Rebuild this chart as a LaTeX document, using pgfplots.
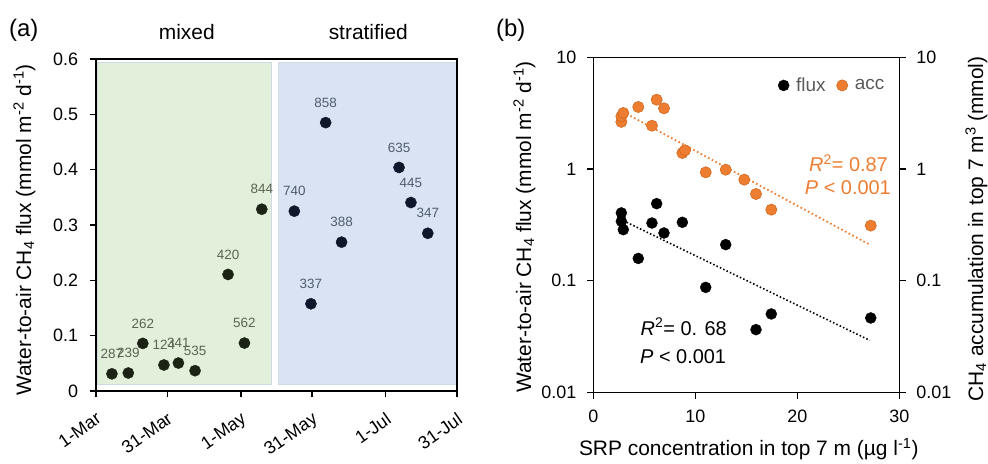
\documentclass[border=0pt]{standalone}
\usepackage{fontspec}
\setmainfont{Liberation Sans}
\usepackage{pgfplots}
\pgfplotsset{compat=1.18}
\definecolor{mixfill}{HTML}{E2EFDA}
\definecolor{strfill}{HTML}{DAE3F3}
\definecolor{rectedge}{HTML}{D0DAE4}
\definecolor{mixpt}{HTML}{1B2414}
\definecolor{strpt}{HTML}{0E172B}
\definecolor{mixlab}{HTML}{5B6352}
\definecolor{strlab}{HTML}{505B6E}
\definecolor{accor}{HTML}{ED7D31}
\definecolor{accedge}{HTML}{D2691E}
\definecolor{legtxt}{HTML}{595959}
\newcommand{\fs}[1]{\fontsize{#1}{#1}\selectfont}

\pgfplotstableread{
day y lab
6.7 0.031 287
13.6 0.0325 239
19.7 0.086 262
28.6 0.047 124
34.7 0.0505 341
41.7 0.0367 535
55.6 0.2106 420
62.5 0.0866 562
69.8 0.3285 844
}\mixed
\pgfplotstableread{
day y lab
83.5 0.325 740
96.7 0.485 858
90.5 0.1576 337
103.4 0.269 388
127.6 0.404 635
132.6 0.3406 445
139.7 0.285 347
}\strat
\pgfplotstableread{
srp flux
2.75 0.404
2.75 0.340
2.94 0.286
6.21 0.489
5.75 0.328
8.73 0.333
6.93 0.267
4.41 0.158
12.98 0.210
11.02 0.087
17.45 0.0503
15.95 0.0364
27.2 0.0463
}\fluxdata
\pgfplotstableread{
srp acc
2.75 2.64
2.75 2.96
2.94 3.17
4.41 3.59
6.21 4.17
6.93 3.49
5.75 2.44
8.73 1.39
8.99 1.47
11.02 0.933
12.98 0.985
14.8 0.802
15.95 0.597
17.45 0.432
27.2 0.311
}\accdata

\pgfplotsset{
  common/.style={
    scale only axis, anchor=south west,
    tick align=outside,
    major tick length=6.5bp,
    axis line style={line width=1.5bp, black},
    tick style={line width=1.3bp, black},
    tick label style={font=\fs{18}},
  }
}

\begin{document}
\begin{tikzpicture}[x=1bp,y=1bp]
\useasboundingbox (0,0) rectangle (988,464);

% ---------- panel (a) ----------
\begin{axis}[common,
  at={(96bp,73bp)}, width=361bp, height=332bp,
  xmin=0, xmax=152, ymin=0, ymax=0.6,
  xtick={0,30,61,91,122,152},
  xticklabels={1-Mar,31-Mar,1-May,31-May,1-Jul,31-Jul},
  ytick={0,0.1,0.2,0.3,0.4,0.5,0.6},
  yticklabels={0,0.1,0.2,0.3,0.4,0.5,0.6},
  tick pos=left,
  x tick label style={rotate=35, anchor=north east},
  xticklabel shift=9bp,
  yticklabel shift=8bp,
  axis on top,
]
\draw[fill=mixfill, draw=rectedge, line width=0.8bp] (axis cs:0.5,0.012) rectangle (axis cs:73.8,0.593);
\draw[fill=strfill, draw=rectedge, line width=0.8bp] (axis cs:76.8,0.012) rectangle (axis cs:151.6,0.593);
\addplot[only marks, mark=*, mark size=5.6bp, mixpt, mark options={fill=mixpt, draw=mixpt},
  nodes near coords, point meta=explicit symbolic,
  nodes near coords style={font=\fs{13.5}, text=mixlab, anchor=south, inner sep=0pt, yshift=15bp}]
  table[x=day, y=y, meta=lab] {\mixed};
\addplot[only marks, mark=*, mark size=5.6bp, strpt, mark options={fill=strpt, draw=strpt},
  nodes near coords, point meta=explicit symbolic,
  nodes near coords style={font=\fs{13.5}, text=strlab, anchor=south, inner sep=0pt, yshift=15bp}]
  table[x=day, y=y, meta=lab] {\strat};
\end{axis}

% ---------- panel (b) ----------
\begin{axis}[common,
  at={(593.3bp,71.7bp)}, width=306bp, height=335bp,
  xmin=0, xmax=30, ymode=log, ymin=0.01, ymax=10,
  xtick={0,10,20,30}, xticklabels={0,10,20,30},
  ytick={0.01,0.1,1,10}, yticklabels={0.01,0.1,1,10},
  yminorticks=false,
  tick pos=left,
  xticklabel shift=8bp,
  yticklabel shift=7bp,
  legend columns=2,
  legend style={draw=none, fill=none, at={(rel axis cs:0.958,0.916)}, anchor=east,
    font=\fs{19}, text=legtxt, inner sep=0pt,
    /tikz/every odd column/.append style={column sep=5bp},
    /tikz/every even column/.append style={column sep=9bp}},
]
\addplot[accor, line width=1.8bp, dash pattern=on 1.6bp off 2.6bp, forget plot]
  coordinates {(3.27,3.11) (27.1,0.21)};
\addplot[black, line width=1.6bp, dash pattern=on 1.5bp off 2.2bp, forget plot]
  coordinates {(3.27,0.333) (27.1,0.0292)};
\addplot[only marks, mark=*, mark size=5.5bp, mark options={fill=black, draw=black}]
  table[x=srp, y=flux] {\fluxdata};
\addlegendentry{flux}
\addplot[only marks, mark=*, mark size=5.6bp, mark options={fill=accor, draw=accedge, line width=0.6bp}]
  table[x=srp, y=acc] {\accdata};
\addlegendentry{acc}
\end{axis}

\begin{axis}[common,
  at={(593.3bp,71.7bp)}, width=306bp, height=335bp,
  xmin=0, xmax=30, ymode=log, ymin=0.01, ymax=10,
  axis x line=none, axis y line*=right,
  ytick={0.01,0.1,1,10}, yticklabels={0.01,0.1,1,10},
  yminorticks=false,
  y tick label style={anchor=west},
  yticklabel shift=7bp,
]
\addplot[draw=none, forget plot] coordinates {(0,1)};
\end{axis}

% ---------- texts ----------
\node[anchor=base west, font=\fs{24}, inner sep=0pt] at (9,464-37) {(a)};
\node[anchor=base west, font=\fs{24}, inner sep=0pt] at (496,464-37) {(b)};
\node[anchor=base, font=\fs{21}, inner sep=0pt] at (186.8,464-40) {mixed};
\node[anchor=base, font=\fs{21}, inner sep=0pt] at (368.3,464-39.5) {stratified};

\node[rotate=90, anchor=base, font=\fs{21}, inner sep=0pt] at (31,464-230)
  {Water-to-air CH\textsubscript{4} flux (mmol m\textsuperscript{-2} d\textsuperscript{-1})};
\node[rotate=90, anchor=base, font=\fs{21}, inner sep=0pt] at (531,464-227)
  {Water-to-air CH\textsubscript{4} flux (mmol m\textsuperscript{-2} d\textsuperscript{-1})};
\node[rotate=90, anchor=base, font=\fs{21}, inner sep=0pt] at (983,464-229)
  {CH\textsubscript{4} accumulation in top 7 m\textsuperscript{3} (mmol)};
\node[anchor=base, font=\fs{21}, inner sep=0pt] at (748.8,464-456)
  {SRP concentration in top 7 m (µg l\textsuperscript{-1})};

\node[anchor=base east, font=\fs{20}, text=accor, inner sep=0pt] at (888,464-172)
  {\textit{R}\textsuperscript{2}= 0.87};
\node[anchor=base east, font=\fs{20}, text=accor, inner sep=0pt] at (891,464-195)
  {\textit{P} < 0.001};
\node[anchor=base west, font=\fs{20}, inner sep=0pt] at (640.5,464-335.5)
  {\textit{R}\textsuperscript{2}= 0. 68};
\node[anchor=base west, font=\fs{20}, inner sep=0pt] at (640,464-363.3)
  {\textit{P} < 0.001};
\end{tikzpicture}
\end{document}
